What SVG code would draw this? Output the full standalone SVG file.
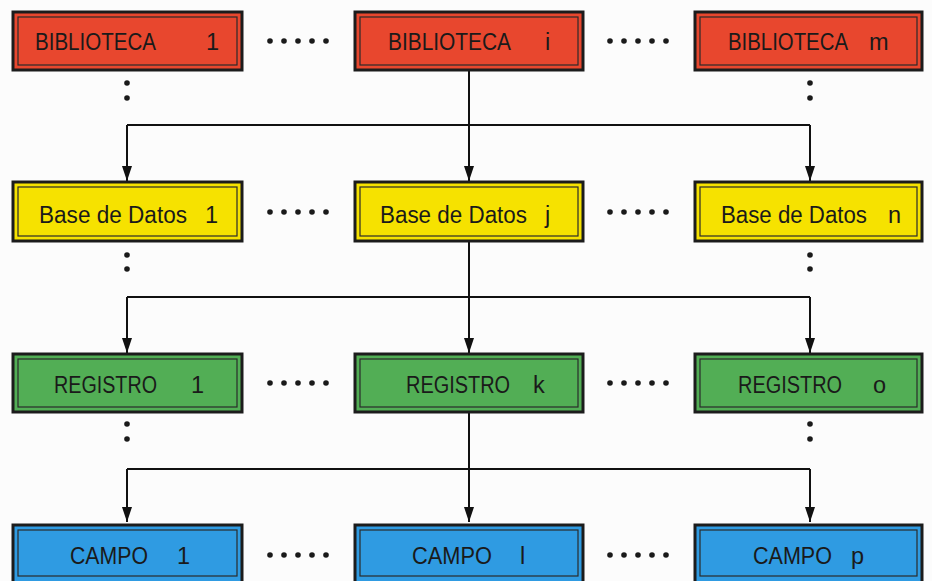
<svg xmlns="http://www.w3.org/2000/svg" width="932" height="581" viewBox="0 0 932 581">
<style>
.box{stroke:#1c1c1c;stroke-width:3}
.inner{fill:none;stroke:#2a2a2a;stroke-width:1.2}
.red{fill:#e8472e}.yel{fill:#f6e200}.grn{fill:#52ae55}.blu{fill:#2f9be2}
text{font-family:"Liberation Sans",Arial,sans-serif;font-size:23.5px;fill:#1a1a1a}
.dot{fill:#1a1a1a}
.ln{fill:none;stroke:#111;stroke-width:2}
</style>
<defs>
<marker id="ah" markerWidth="15" markerHeight="10" refX="15" refY="5" orient="auto" markerUnits="userSpaceOnUse" viewBox="0 0 15 10">
<path d="M0,0 L15,5 L0,10 Z" fill="#111"/>
</marker>
</defs>
<rect width="932" height="581" fill="#fcfcfc"/>

<g id="connectors">
<path class="ln" d="M469,70 V125"/>
<path class="ln" d="M127,125 H810"/>
<line class="ln" x1="127" y1="125" x2="127" y2="181" marker-end="url(#ah)"/>
<line class="ln" x1="469" y1="125" x2="469" y2="181" marker-end="url(#ah)"/>
<line class="ln" x1="810" y1="125" x2="810" y2="181" marker-end="url(#ah)"/>
<path class="ln" d="M469,241 V297"/>
<path class="ln" d="M127,297 H810"/>
<line class="ln" x1="127" y1="297" x2="127" y2="353" marker-end="url(#ah)"/>
<line class="ln" x1="469" y1="297" x2="469" y2="353" marker-end="url(#ah)"/>
<line class="ln" x1="810" y1="297" x2="810" y2="353" marker-end="url(#ah)"/>
<path class="ln" d="M469,412 V469"/>
<path class="ln" d="M127,469 H810"/>
<line class="ln" x1="127" y1="469" x2="127" y2="522" marker-end="url(#ah)"/>
<line class="ln" x1="469" y1="469" x2="469" y2="522" marker-end="url(#ah)"/>
<line class="ln" x1="810" y1="469" x2="810" y2="522" marker-end="url(#ah)"/>
</g>

<g id="ellipses">
<g class="dot">
<circle cx="270" cy="41" r="2.8"/><circle cx="284" cy="41" r="2.8"/><circle cx="298" cy="41" r="2.8"/><circle cx="312" cy="41" r="2.8"/><circle cx="326" cy="41" r="2.8"/>
<circle cx="610" cy="41" r="2.8"/><circle cx="624" cy="41" r="2.8"/><circle cx="638" cy="41" r="2.8"/><circle cx="652" cy="41" r="2.8"/><circle cx="666" cy="41" r="2.8"/>
<circle cx="127" cy="83" r="2.8"/><circle cx="127" cy="98" r="2.8"/><circle cx="810" cy="83" r="2.8"/><circle cx="810" cy="98" r="2.8"/>

<circle cx="270" cy="212" r="2.8"/><circle cx="284" cy="212" r="2.8"/><circle cx="298" cy="212" r="2.8"/><circle cx="312" cy="212" r="2.8"/><circle cx="326" cy="212" r="2.8"/>
<circle cx="610" cy="212" r="2.8"/><circle cx="624" cy="212" r="2.8"/><circle cx="638" cy="212" r="2.8"/><circle cx="652" cy="212" r="2.8"/><circle cx="666" cy="212" r="2.8"/>
<circle cx="127" cy="255" r="2.8"/><circle cx="127" cy="269" r="2.8"/><circle cx="810" cy="255" r="2.8"/><circle cx="810" cy="269" r="2.8"/>

<circle cx="270" cy="383" r="2.8"/><circle cx="284" cy="383" r="2.8"/><circle cx="298" cy="383" r="2.8"/><circle cx="312" cy="383" r="2.8"/><circle cx="326" cy="383" r="2.8"/>
<circle cx="610" cy="383" r="2.8"/><circle cx="624" cy="383" r="2.8"/><circle cx="638" cy="383" r="2.8"/><circle cx="652" cy="383" r="2.8"/><circle cx="666" cy="383" r="2.8"/>
<circle cx="127" cy="424" r="2.8"/><circle cx="127" cy="439" r="2.8"/><circle cx="810" cy="424" r="2.8"/><circle cx="810" cy="439" r="2.8"/>

<circle cx="270" cy="555" r="2.8"/><circle cx="284" cy="555" r="2.8"/><circle cx="298" cy="555" r="2.8"/><circle cx="312" cy="555" r="2.8"/><circle cx="326" cy="555" r="2.8"/>
<circle cx="610" cy="555" r="2.8"/><circle cx="624" cy="555" r="2.8"/><circle cx="638" cy="555" r="2.8"/><circle cx="652" cy="555" r="2.8"/><circle cx="666" cy="555" r="2.8"/>
</g>
</g>

<g id="bib1"><rect class="box red" x="13" y="12" width="229" height="58"/><rect class="inner" x="18" y="17" width="219" height="48"/><text x="35" y="50" textLength="121" lengthAdjust="spacingAndGlyphs">BIBLIOTECA</text><text x="206" y="50">1</text></g>
<g id="bibi"><rect class="box red" x="355" y="12" width="228" height="58"/><rect class="inner" x="360" y="17" width="218" height="48"/><text x="388" y="50" textLength="123" lengthAdjust="spacingAndGlyphs">BIBLIOTECA</text><text x="545" y="50">i</text></g>
<g id="bibm"><rect class="box red" x="695" y="12" width="227" height="58"/><rect class="inner" x="700" y="17" width="217" height="48"/><text x="728" y="50" textLength="120" lengthAdjust="spacingAndGlyphs">BIBLIOTECA</text><text x="869" y="50">m</text></g>

<g id="bd1"><rect class="box yel" x="13" y="182" width="229" height="59"/><rect class="inner" x="18" y="187" width="219" height="49"/><text x="39" y="223" textLength="148" lengthAdjust="spacingAndGlyphs">Base de Datos</text><text x="205" y="223">1</text></g>
<g id="bdj"><rect class="box yel" x="355" y="182" width="228" height="59"/><rect class="inner" x="360" y="187" width="218" height="49"/><text x="380" y="223" textLength="147" lengthAdjust="spacingAndGlyphs">Base de Datos</text><text x="545" y="223">j</text></g>
<g id="bdn"><rect class="box yel" x="695" y="182" width="227" height="59"/><rect class="inner" x="700" y="187" width="217" height="49"/><text x="721" y="223" textLength="146" lengthAdjust="spacingAndGlyphs">Base de Datos</text><text x="888" y="223">n</text></g>

<g id="reg1"><rect class="box grn" x="13" y="354" width="229" height="58"/><rect class="inner" x="18" y="359" width="219" height="48"/><text x="54" y="393" textLength="103" lengthAdjust="spacingAndGlyphs">REGISTRO</text><text x="191" y="393">1</text></g>
<g id="regk"><rect class="box grn" x="355" y="354" width="228" height="58"/><rect class="inner" x="360" y="359" width="218" height="48"/><text x="406" y="393" textLength="104" lengthAdjust="spacingAndGlyphs">REGISTRO</text><text x="533" y="393">k</text></g>
<g id="rego"><rect class="box grn" x="695" y="354" width="227" height="58"/><rect class="inner" x="700" y="359" width="217" height="48"/><text x="738" y="393" textLength="104" lengthAdjust="spacingAndGlyphs">REGISTRO</text><text x="873" y="393">o</text></g>

<g id="campo1"><rect class="box blu" x="13" y="525" width="229" height="60"/><rect class="inner" x="18" y="530" width="219" height="46"/><text x="70" y="564" textLength="78" lengthAdjust="spacingAndGlyphs">CAMPO</text><text x="177" y="564">1</text></g>
<g id="campol"><rect class="box blu" x="355" y="525" width="228" height="60"/><rect class="inner" x="360" y="530" width="218" height="46"/><text x="412" y="564" textLength="80" lengthAdjust="spacingAndGlyphs">CAMPO</text><text x="520" y="564">l</text></g>
<g id="campop"><rect class="box blu" x="695" y="525" width="227" height="60"/><rect class="inner" x="700" y="530" width="217" height="46"/><text x="753" y="564" textLength="79" lengthAdjust="spacingAndGlyphs">CAMPO</text><text x="851" y="564">p</text></g>
</svg>
